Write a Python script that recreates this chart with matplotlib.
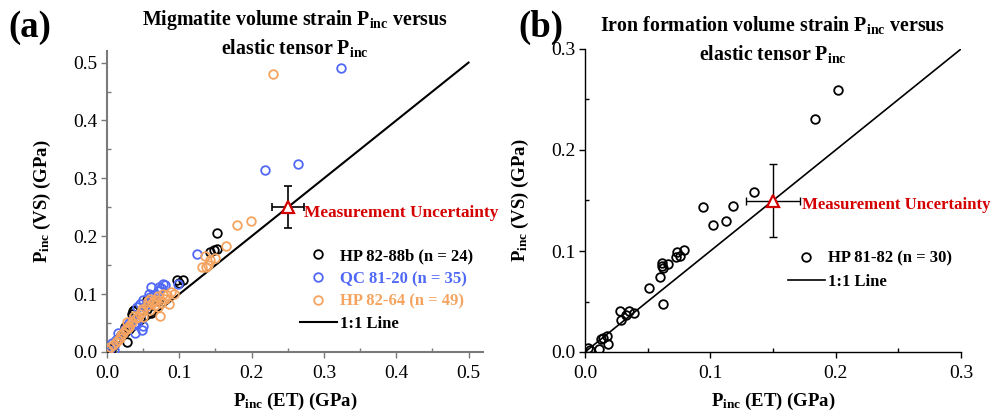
import matplotlib
matplotlib.use("Agg")
import matplotlib.pyplot as plt
from matplotlib.lines import Line2D
from matplotlib.ticker import MultipleLocator, FormatStrFormatter

plt.rcParams['font.family'] = ['Liberation Serif', 'DejaVu Serif']
plt.rcParams['mathtext.fontset'] = 'custom'
plt.rcParams['mathtext.rm'] = 'Liberation Serif'
plt.rcParams['mathtext.bf'] = 'Liberation Serif:bold'
plt.rcParams['mathtext.it'] = 'Liberation Serif:italic'

# ---------------- data: panel (a) ----------------
hp8288b_x = [0.152, 0.152, 0.143, 0.105, 0.097, 0.055, 0.061, 0.036, 0.0245, 0.027,
             0.035, 0.038, 0.060, 0.045, 0.020, 0.015, 0.010, 0.005, 0.055, 0.070,
             0.030, 0.025, 0.100, 0.148]
hp8288b_y = [0.206, 0.178, 0.173, 0.124, 0.124, 0.090, 0.067, 0.070, 0.044, 0.018,
             0.065, 0.072, 0.085, 0.058, 0.030, 0.022, 0.012, 0.006, 0.075, 0.088,
             0.040, 0.035, 0.120, 0.176]

qc8120_x = [0.324, 0.219, 0.264, 0.124, 0.098, 0.078, 0.072, 0.061, 0.052, 0.042,
            0.041, 0.048, 0.039, 0.015, 0.007, 0.010, 0.058, 0.045, 0.050, 0.065,
            0.075, 0.035, 0.030, 0.025, 0.020, 0.012, 0.005, 0.080, 0.055, 0.045,
            0.038, 0.050, 0.003, 0.070, 0.060]
qc8120_y = [0.490, 0.314, 0.324, 0.170, 0.118, 0.118, 0.112, 0.113, 0.078, 0.078,
            0.050, 0.038, 0.033, 0.032, 0.015, 0.004, 0.100, 0.083, 0.090, 0.098,
            0.110, 0.055, 0.050, 0.040, 0.030, 0.020, 0.008, 0.115, 0.085, 0.065,
            0.048, 0.045, 0.004, 0.105, 0.095]

hp8264_x = [0.229, 0.180, 0.199, 0.164, 0.136, 0.142, 0.150, 0.131, 0.137, 0.089,
            0.080, 0.086, 0.059, 0.071, 0.066, 0.073, 0.049, 0.043, 0.028, 0.031,
            0.020, 0.004, 0.077, 0.083, 0.065, 0.055, 0.060, 0.070, 0.045, 0.040,
            0.035, 0.030, 0.025, 0.018, 0.012, 0.008, 0.002, 0.050, 0.062, 0.075,
            0.092, 0.068, 0.057, 0.048, 0.038, 0.015, 0.022, 0.027, 0.140]
hp8264_y = [0.481, 0.219, 0.226, 0.183, 0.166, 0.159, 0.162, 0.146, 0.146, 0.103,
            0.092, 0.083, 0.092, 0.096, 0.081, 0.062, 0.071, 0.061, 0.051, 0.043,
            0.029, 0.009, 0.100, 0.098, 0.088, 0.080, 0.072, 0.078, 0.065, 0.058,
            0.052, 0.045, 0.038, 0.025, 0.018, 0.012, 0.004, 0.060, 0.085, 0.085,
            0.100, 0.090, 0.088, 0.075, 0.063, 0.020, 0.033, 0.040, 0.150]

# ---------------- data: panel (b) ----------------
hp8182_x = [0.2016, 0.1838, 0.1346, 0.0942, 0.1178, 0.1019, 0.1128, 0.0790, 0.0758, 0.0737,
            0.0726, 0.0612, 0.0660, 0.0625, 0.0596, 0.0622, 0.0508, 0.0279, 0.0349, 0.0391,
            0.0290, 0.0173, 0.0130, 0.0184, 0.0040, 0.0109, 0.0141, 0.0615, 0.0330, 0.0020]
hp8182_y = [0.2594, 0.2304, 0.1584, 0.1432, 0.1442, 0.1254, 0.1297, 0.1010, 0.0947, 0.0987,
            0.0937, 0.0884, 0.0871, 0.0828, 0.0746, 0.0475, 0.0637, 0.0409, 0.0409, 0.0383,
            0.0317, 0.0158, 0.0125, 0.0079, 0.0020, 0.0027, 0.0135, 0.0850, 0.0370, 0.0036]

unc_a = (0.25, 0.25, 0.022, 0.036)
unc_b = (0.15, 0.15, 0.0215, 0.036)

BLUE = '#5068f6'
ORANGE = '#f4a460'
RED = '#d40000'

fig = plt.figure(figsize=(9.95, 4.16), dpi=100)
axa = fig.add_axes([107/995, 64/416, 376/995, 301/416])
axb = fig.add_axes([585/995, 64/416, 376/995, 303/416])

ms = 6.2
mew = 1.3

def style(ax, lim, spine_color, spine_w):
    ax.set_xlim(0, lim)
    ax.set_ylim(0, lim)
    for s in ['top', 'right']:
        ax.spines[s].set_visible(False)
    for s in ['left', 'bottom']:
        ax.spines[s].set_color(spine_color)
        ax.spines[s].set_linewidth(spine_w)
    ax.xaxis.set_major_locator(MultipleLocator(0.1))
    ax.yaxis.set_major_locator(MultipleLocator(0.1))
    ax.xaxis.set_minor_locator(MultipleLocator(0.05))
    ax.yaxis.set_minor_locator(MultipleLocator(0.05))
    ax.xaxis.set_major_formatter(FormatStrFormatter('%.1f'))
    ax.yaxis.set_major_formatter(FormatStrFormatter('%.1f'))
    ax.tick_params(which='major', direction='out', length=4, width=1, labelsize=14,
                   color=spine_color)
    ax.tick_params(axis='x', which='major', pad=5)
    ax.tick_params(axis='y', which='major', pad=3)
    ax.tick_params(which='minor', direction='in', length=3, width=1, color=spine_color)
    ax.set_xlabel(r'$\mathbf{P_{inc}}$ (ET) (GPa)', fontsize=13.5, fontweight='bold', labelpad=7)
    ax.set_ylabel(r'$\mathbf{P_{inc}}$ (VS) (GPa)', fontsize=13.5, fontweight='bold', labelpad=14)

# ---------- panel (a) ----------
style(axa, 0.52, '#7a7a7a', 1.5)
axa.plot([0, 0.5], [0, 0.5], color='black', lw=1.5, zorder=2)
axa.plot(hp8288b_x, hp8288b_y, 'o', mfc='none', mec='black', ms=ms, mew=mew, zorder=3)
axa.plot(qc8120_x, qc8120_y, 'o', mfc='none', mec=BLUE, ms=ms, mew=mew, zorder=3)
axa.plot(hp8264_x, hp8264_y, 'o', mfc='none', mec=ORANGE, ms=ms, mew=mew, zorder=3)
axa.errorbar([unc_a[0]], [unc_a[1]], xerr=[unc_a[2]], yerr=[unc_a[3]], fmt='none',
             ecolor='black', elinewidth=1.2, capsize=3, capthick=1.2, zorder=4)
axa.plot([unc_a[0]], [unc_a[1]], '^', mfc='white', mec=RED, ms=9, mew=1.6, zorder=5)
axa.text(0.273, 0.240, 'Measurement Uncertainty', color=RED, fontsize=12.4,
         fontweight='bold', va='center', ha='left')
handles_a = [
    Line2D([], [], ls='none', marker='o', mfc='none', mec='black', ms=ms, mew=mew),
    Line2D([], [], ls='none', marker='o', mfc='none', mec=BLUE, ms=ms, mew=mew),
    Line2D([], [], ls='none', marker='o', mfc='none', mec=ORANGE, ms=ms, mew=mew),
    Line2D([], [], color='black', lw=1.5),
]
labels_a = ['HP 82-88b (n = 24)', 'QC 81-20 (n = 35)', 'HP 82-64 (n = 49)', '1:1 Line']
axa.legend(handles_a, labels_a, loc='center left', bbox_to_anchor=(0.513, 0.205),
           frameon=False, borderpad=0, borderaxespad=0, handlelength=2.2,
           handletextpad=0.2, labelspacing=0.4,
           prop={'family': 'Liberation Serif', 'weight': 'bold', 'size': 12},
           labelcolor=['black', BLUE, ORANGE, 'black'])
axa.set_title('Migmatite volume strain ' + r'$\mathbf{P_{inc}}$' + ' versus\nelastic tensor '
              + r'$\mathbf{P_{inc}}$', fontsize=14.3, fontweight='bold', y=1.0, pad=-2,
              linespacing=1.3)
fig.text(8/995, 1 - 37/416, '(a)', fontsize=26.5, fontweight='bold', ha='left', va='baseline')

# ---------- panel (b) ----------
style(axb, 0.3, 'black', 1.0)
axb.plot([0, 0.3], [0, 0.3], color='black', lw=1.2, zorder=2)
axb.plot(hp8182_x, hp8182_y, 'o', mfc='none', mec='black', ms=ms, mew=mew, zorder=3)
axb.errorbar([unc_b[0]], [unc_b[1]], xerr=[unc_b[2]], yerr=[unc_b[3]], fmt='none',
             ecolor='black', elinewidth=1.0, capsize=3, capthick=1.0, zorder=4)
axb.plot([unc_b[0]], [unc_b[1]], '^', mfc='white', mec=RED, ms=9, mew=1.6, zorder=5)
axb.text(0.1735, 0.1455, 'Measurement Uncertainty', color=RED, fontsize=12.1,
         fontweight='bold', va='center', ha='left', clip_on=False)
handles_b = [
    Line2D([], [], ls='none', marker='o', mfc='none', mec='black', ms=ms, mew=mew),
    Line2D([], [], color='black', lw=1.2),
]
axb.legend(handles_b, ['HP 81-82 (n = 30)', '1:1 Line'], loc='center left',
           bbox_to_anchor=(0.54, 0.27), frameon=False, borderpad=0, borderaxespad=0,
           handlelength=2.2, handletextpad=0.2, labelspacing=0.4,
           prop={'family': 'Liberation Serif', 'weight': 'bold', 'size': 12},
           )
axb.set_title('Iron formation volume strain ' + r'$\mathbf{P_{inc}}$' + ' versus\nelastic tensor '
              + r'$\mathbf{P_{inc}}$', fontsize=14.3, fontweight='bold', y=1.0, pad=-8,
              linespacing=1.42)
fig.text(518/995, 1 - 37/416, '(b)', fontsize=26.5, fontweight='bold', ha='left', va='baseline')

fig.savefig('out.png', dpi=100)
